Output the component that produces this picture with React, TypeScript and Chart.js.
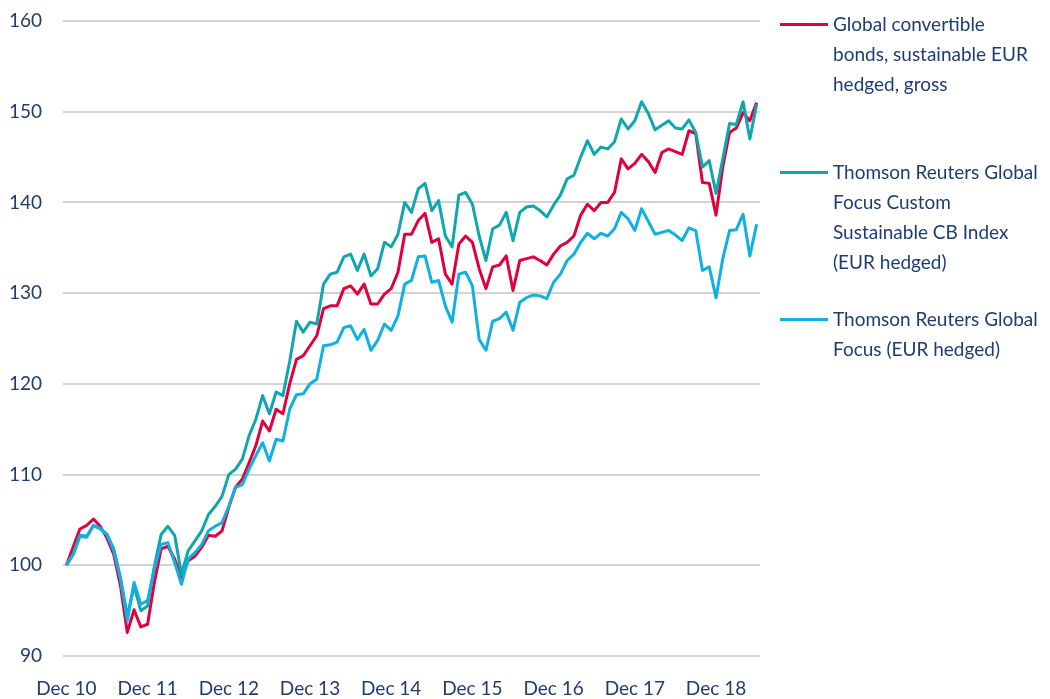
import React, { useEffect, useRef } from "react";
import { Chart, registerables } from "chart.js";

Chart.register(...registerables);

const MONTH_NAMES = ["Jan", "Feb", "Mar", "Apr", "May", "Jun", "Jul", "Aug", "Sep", "Oct", "Nov", "Dec"];
const FIRST_MONTH = { month: 11, year: 2010 };
const MONTH_COUNT = 103;

const CATEGORIES: string[] = Array.from({ length: MONTH_COUNT }, (_, i) => {
  const m = (FIRST_MONTH.month + i) % 12;
  const y = FIRST_MONTH.year + Math.floor((FIRST_MONTH.month + i) / 12);
  return `${MONTH_NAMES[m]} ${String(y % 100).padStart(2, "0")}`;
});

const TICK_LABELS = ["Dec 10", "Dec 11", "Dec 12", "Dec 13", "Dec 14", "Dec 15", "Dec 16", "Dec 17", "Dec 18"];

const SERIES_NAMES = [
  ["Global convertible", "bonds, sustainable EUR", "hedged, gross"],
  ["Thomson Reuters Global", "Focus Custom", "Sustainable CB Index", "(EUR hedged)"],
  ["Thomson Reuters Global", "Focus (EUR hedged)"],
];

const GLOBAL_CB_SUSTAINABLE = [
  100, 102.0, 104.0, 104.4, 105.1, 104.3, 103.0, 101.2, 97.7, 92.6,
  95.1, 93.2, 93.5, 98.1, 101.8, 102.1, 100.7, 98.6, 100.5, 101.0,
  102.0, 103.3, 103.2, 103.8, 106.4, 108.6, 109.5, 111.3, 113.2, 115.9,
  114.8, 117.2, 116.7, 120.0, 122.7, 123.1, 124.2, 125.3, 128.3, 128.6,
  128.6, 130.5, 130.8, 129.9, 131.0, 128.8, 128.8, 129.9, 130.5, 132.3,
  136.5, 136.5, 138.0, 138.8, 135.6, 136.0, 132.1, 131.0, 135.4, 136.3,
  135.6, 132.7, 130.5, 132.9, 133.1, 134.1, 130.3, 133.6, 133.8, 134.0,
  133.6, 133.1, 134.3, 135.2, 135.6, 136.3, 138.6, 139.8, 139.1, 140.0,
  140.0, 141.1, 144.8, 143.7, 144.3, 145.3, 144.5, 143.3, 145.5, 145.9,
  145.6, 145.3, 147.9, 147.6, 142.2, 142.1, 138.6, 143.9, 147.7, 148.2,
  149.9, 149.0, 151.0,
];

const TR_CUSTOM_SUSTAINABLE = [
  100, 101.2, 103.3, 103.2, 104.4, 104.1, 103.4, 101.8, 98.6, 94.4,
  97.7, 95.0, 95.5, 99.9, 103.4, 104.3, 103.3, 99.0, 101.6, 102.7,
  103.8, 105.6, 106.5, 107.6, 110.0, 110.6, 111.7, 114.3, 116.1, 118.7,
  116.7, 119.1, 118.7, 122.5, 126.9, 125.7, 126.8, 126.6, 131.0, 132.1,
  132.3, 134.0, 134.3, 132.5, 134.3, 131.9, 132.7, 135.6, 135.1, 136.5,
  140.0, 138.9, 141.5, 142.1, 139.1, 140.2, 136.3, 135.1, 140.8, 141.1,
  139.8, 136.3, 133.6, 137.1, 137.5, 138.9, 135.8, 138.9, 139.5, 139.6,
  139.1, 138.4, 139.7, 140.8, 142.6, 143.0, 145.0, 146.8, 145.3, 146.1,
  145.9, 146.7, 149.2, 148.1, 149.0, 151.1, 149.8, 148.0, 148.5, 149.0,
  148.2, 148.1, 149.1, 147.7, 143.9, 144.6, 141.0, 144.8, 148.7, 148.6,
  151.1, 147.0, 150.8,
];

const TR_GLOBAL_FOCUS = [
  100, 101.2, 103.2, 103.1, 104.4, 104.0, 103.4, 101.6, 98.5, 93.9,
  98.1, 95.7, 96.1, 99.6, 102.3, 102.5, 100.3, 97.9, 100.7, 101.4,
  102.3, 103.8, 104.3, 104.7, 106.5, 108.6, 108.9, 110.6, 112.1, 113.5,
  111.5, 113.9, 113.7, 117.2, 118.8, 118.9, 120.0, 120.5, 124.2, 124.3,
  124.6, 126.2, 126.4, 124.9, 126.0, 123.7, 124.8, 126.6, 125.9, 127.5,
  131.0, 131.4, 134.0, 134.1, 131.2, 131.4, 128.6, 126.8, 132.1, 132.3,
  130.8, 124.9, 123.7, 126.9, 127.2, 127.9, 125.9, 129.0, 129.5, 129.8,
  129.7, 129.4, 131.2, 132.1, 133.6, 134.3, 135.6, 136.6, 136.0, 136.6,
  136.3, 137.1, 138.9, 138.2, 136.9, 139.3, 137.9, 136.5, 136.7, 136.9,
  136.4, 135.8, 137.2, 136.9, 132.5, 132.9, 129.5, 133.8, 136.9, 137.0,
  138.7, 134.1, 137.6,
];

const COLORS = ["#e2003c", "#10a6b0", "#10b0e0"];
const TEXT_COLOR = "#1f3c72";
const FONT = "Lato, 'Open Sans', sans-serif";

export default function App() {
  const canvasRef = useRef<HTMLCanvasElement | null>(null);

  useEffect(() => {
    if (!canvasRef.current) return;
    const chart = new Chart(canvasRef.current, {
      type: "line",
      data: {
        labels: CATEGORIES,
        datasets: [
          { label: SERIES_NAMES[0].join(" "), data: GLOBAL_CB_SUSTAINABLE, borderColor: COLORS[0], order: 2 },
          { label: SERIES_NAMES[1].join(" "), data: TR_CUSTOM_SUSTAINABLE, borderColor: COLORS[1], order: 1 },
          { label: SERIES_NAMES[2].join(" "), data: TR_GLOBAL_FOCUS, borderColor: COLORS[2], order: 0 },
        ].map((d) => ({
          ...d,
          borderWidth: 3,
          pointRadius: 0,
          tension: 0,
          fill: false,
          borderJoinStyle: "round" as const,
        })),
      },
      options: {
        animation: false,
        responsive: false,
        maintainAspectRatio: false,
        layout: { padding: { top: 21, right: 290, left: 0, bottom: 0 } },
        plugins: { legend: { display: false }, tooltip: { enabled: false } },
        scales: {
          x: {
            type: "category",
            offset: true,
            grid: { display: false, drawTicks: false },
            border: { display: false },
            ticks: {
              autoSkip: false,
              maxRotation: 0,
              minRotation: 0,
              padding: 21,
              color: TEXT_COLOR,
              font: { family: FONT, size: 19 },
              callback: (_v: any, index: number) => {
                const l = CATEGORIES[index];
                return TICK_LABELS.includes(l) ? l : "";
              },
            },
            afterFit: (scale: any) => {
              scale.height = 43;
            },
          },
          y: {
            min: 90,
            max: 160,
            grid: { color: "#d3d3d3", lineWidth: 2, drawTicks: false },
            border: { display: false },
            ticks: {
              stepSize: 10,
              padding: 21,
              color: TEXT_COLOR,
              font: { family: FONT, size: 19 },
            },
            afterFit: (scale: any) => {
              scale.width = 63;
              scale.paddingTop = 0;
              scale.paddingBottom = 0;
            },
          },
        },
      },
    });
    return () => chart.destroy();
  }, []);

  const legendTops = [9, 157, 304];

  return (
    <div style={{ position: "fixed", left: 0, top: 0, width: 1050, height: 699, background: "#ffffff" }}>
      <canvas ref={canvasRef} width={1050} height={699} style={{ position: "absolute", left: 0, top: 0 }} />
      {SERIES_NAMES.map((lines, i) => (
        <div key={i} style={{ position: "absolute", left: 780, top: legendTops[i] }}>
          <div
            style={{
              position: "absolute",
              left: 0,
              top: 13.5,
              width: 48,
              height: 3,
              background: COLORS[i],
            }}
          />
          <div
            style={{
              position: "absolute",
              left: 53,
              top: 0,
              width: 260,
              fontFamily: FONT,
              fontSize: 19,
              lineHeight: "30px",
              color: TEXT_COLOR,
              whiteSpace: "nowrap",
            }}
          >
            {lines.map((t, j) => (
              <div key={j}>{t}</div>
            ))}
          </div>
        </div>
      ))}
    </div>
  );
}
